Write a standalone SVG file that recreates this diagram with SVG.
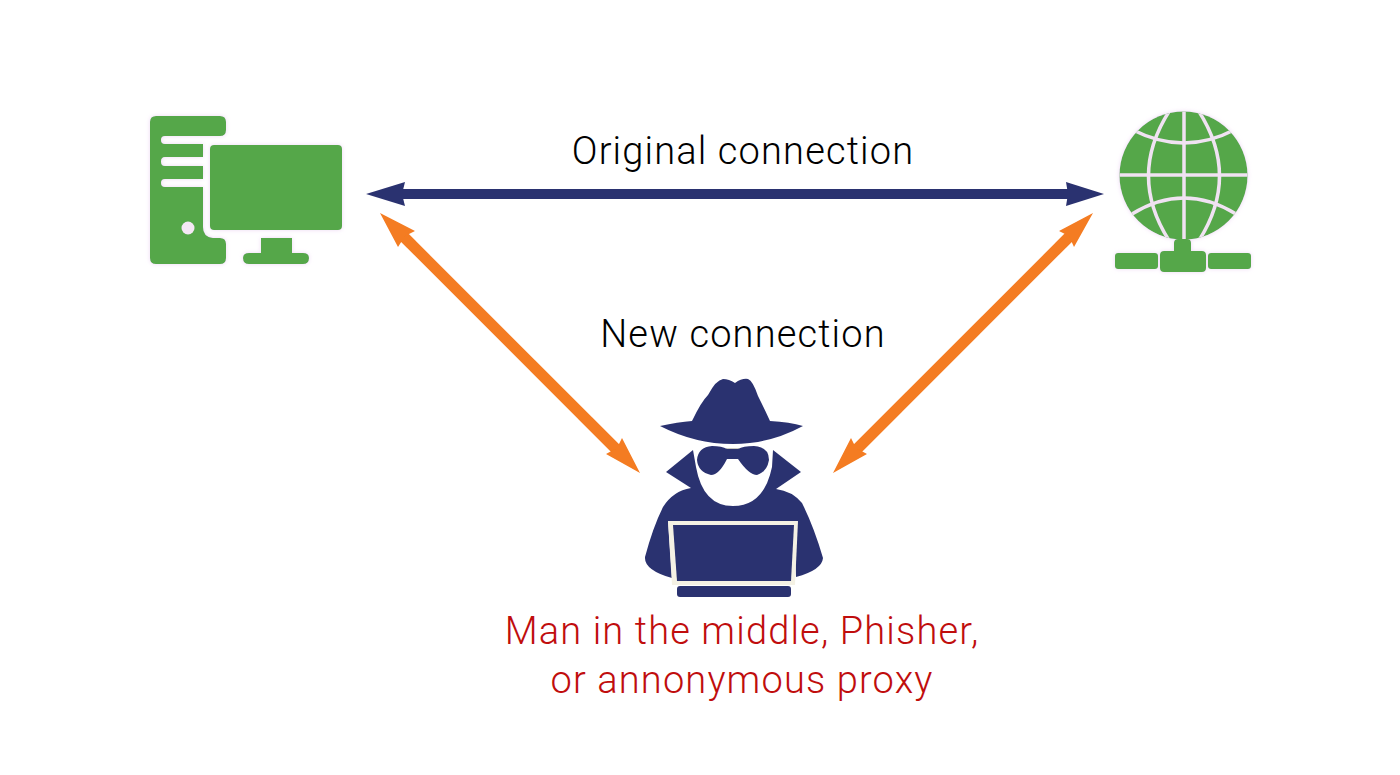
<svg xmlns="http://www.w3.org/2000/svg" width="1400" height="775" viewBox="0 0 1400 775">
<defs>
<filter id="halo" x="-10%" y="-10%" width="120%" height="120%">
<feGaussianBlur in="SourceGraphic" stdDeviation="0.7" result="s"/>
<feDropShadow in="s" dx="0" dy="0" stdDeviation="2.200" flood-color="#e6c8f0" flood-opacity="0.7"/>
</filter>
<filter id="soft" x="-5%" y="-5%" width="110%" height="110%">
<feGaussianBlur stdDeviation="0.400"/>
</filter>
<clipPath id="ball"><circle cx="1183.500" cy="175.500" r="64"/></clipPath>
</defs>
<style>
.g{fill:#55a74a}
.n{fill:#2b3270}
.f{fill:#f47b20}
.t{font-family:Roboto,"Liberation Sans",sans-serif;font-size:38px;font-weight:300;letter-spacing:1.150px;text-anchor:middle;fill:#000}
.r{fill:#c00d0d}
.o{stroke:#f47b20;stroke-width:11;fill:none}
.b{stroke:#2b3270;stroke-width:10;fill:none}
</style>
<rect width="1400" height="775" fill="#fff"/>
<g id="connectors" filter="url(#soft)">
<line class="b" x1="395" y1="194" x2="1075" y2="194"/>
<polygon class="n" points="366,194 405,182 402,194 405,206"/>
<polygon class="n" points="1104,194 1066,182 1068,194 1066,206"/>
<line class="o" x1="402" y1="235" x2="617" y2="450"/>
<polygon class="f" points="380,213 415,231 405,236 398,247"/>
<polygon class="f" points="640,473 622,438 617,448 606,454"/>
<line class="o" x1="1070" y1="236" x2="856" y2="450"/>
<polygon class="f" points="1093,213 1059,231 1069,236 1074,247"/>
<polygon class="f" points="833,473 851,438 856,448 867,454"/>
</g>
<g id="computer" filter="url(#halo)">
<path class="g" d="M156 116H220Q226 116 226 122V130Q226 136 220 136H165Q161 136 161 140Q161 144 165 144H203V157H165Q161 157 161 161.500Q161 166 165 166H203V179H165Q161 179 161 183Q161 187 165 187H203V227Q203 237 213 238H220Q226 238 226 244V258Q226 264 220 264H156Q150 264 150 258V122Q150 116 156 116Z"/>
<circle cx="188" cy="228" r="6.500" fill="#f5e8f5"/>
<rect class="g" x="210" y="145" width="132" height="85" rx="4"/>
<path class="g" d="M261 238H292V253H303Q309 253 309 258Q309 264 303 264H249Q243 264 243 258Q243 253 249 253H261Z"/>
</g>
<g id="globe" filter="url(#halo)">
<circle cx="1183.500" cy="175.500" r="64" class="g"/>
<g fill="none" stroke="#f0e2f2" stroke-width="3.500" clip-path="url(#ball)">
<line x1="1117" y1="175" x2="1250" y2="175"/>
<line x1="1184" y1="110" x2="1184" y2="242"/>
<path d="M1170 110Q1127 176 1170 242"/>
<path d="M1198 110Q1241 176 1198 242"/>
<path d="M1133 130Q1184 156 1234 130"/>
<path d="M1132 214Q1184 182 1236 214"/>
</g>
<path class="g" d="M1178 239H1187Q1191 239 1191 243V251H1202Q1206 251 1206 255V268Q1206 272 1202 272H1164Q1160 272 1160 268V255Q1160 251 1164 251H1174V243Q1174 239 1178 239Z"/>
<rect class="g" x="1115" y="253" width="43" height="16" rx="3"/>
<rect class="g" x="1208" y="253" width="43" height="16" rx="3"/>
</g>
<g id="attacker" filter="url(#soft)">
<path class="n" d="M660 426Q678 422 692 421Q701 402 708 395Q716 380 723 379Q729 379 735 383Q742 378 748 379Q753 381 758 396Q765 410 770 421Q790 422 803 426Q770 444 733 444Q695 444 660 426Z"/>
<path fill="#c9c9c0" d="M726 448H739V456H726Z"/>
<path class="n" d="M697 460Q698 447 712 446Q722 446 727 449L738 449Q743 446 754 446Q769 447 769 460Q767 472 757 475Q749 475 738 459H727Q719 475 711 475Q698 472 697 460Z"/>
<path class="n" d="M693 450L696 467Q703 506 733 506Q764 506 772 467L773 450L801 472L776 489Q792 491 802 503Q814 527 823 558Q822 570 796 577L794 521H668L672 578Q644 570 645 557Q653 527 663 507Q673 491 691 488L666 472Z"/>
<path fill="#f4f1e4" d="M668 521H798L795 585H672Z"/>
<path class="n" d="M673 525H794L791 581H677Z"/>
<rect class="n" x="677" y="586" width="114" height="11" rx="3"/>
</g>
<g id="labels">
<text class="t" x="743" y="164">Original connection</text>
<text class="t" x="743" y="347">New connection</text>
<text class="t r" x="742" y="644">Man in the middle, Phisher,</text>
<text class="t r" x="742" y="693">or annonymous proxy</text>
</g>
</svg>
